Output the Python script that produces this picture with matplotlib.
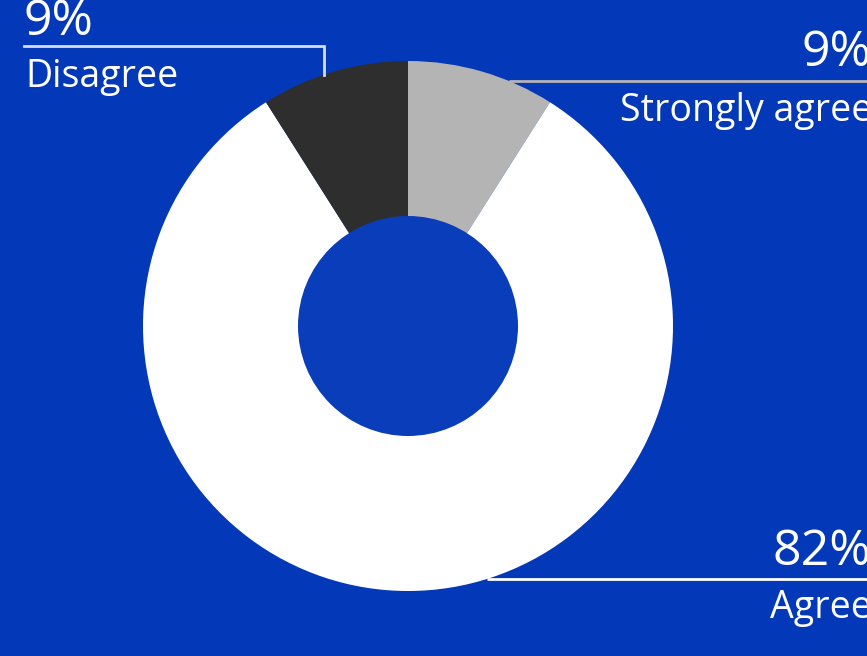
import numpy as np
import matplotlib.pyplot as plt

# survey answers, clockwise from 12 o'clock
labels = ["Strongly agree", "Agree", "Disagree"]
values = [9, 82, 9]
pct_labels = ["9%", "82%", "9%"]

colors = ["#b4b4b4", "#ffffff", "#2e2e2e"]
line_colors = ["#b4b4b4", "#ffffff", "#d6dcf2"]
bg = "#0339b8"
hole = "#0a3db9"

W, H = 867, 656
cx, cy = 408, 330      # centre of the donut (y measured from the bottom)
r_out, r_in = 265, 110

plt.rcParams['font.family'] = ['Open Sans', 'DejaVu Sans']

fig = plt.figure(figsize=(W / 100, H / 100), dpi=100, facecolor=bg)
ax = fig.add_axes([0, 0, 1, 1])

ax.pie(values, colors=colors, startangle=90, counterclock=False,
       center=(cx, cy), radius=r_out, frame=True,
       wedgeprops=dict(linewidth=0))
ax.add_patch(plt.Circle((cx, cy), r_in, color=hole, lw=0))
ax.set_xlim(0, W)
ax.set_ylim(0, H)
ax.set_aspect('equal')
ax.axis('off')


def rim_x(y, side):
    return cx + side * np.sqrt(r_out ** 2 - (y - cy) ** 2)


pct_size = 36
lab_size = 27
x_right = 871

# Strongly agree (right, top)
y = H - 81
ax.plot([rim_x(y, 1), W], [y, y], color=line_colors[0], lw=2, solid_capstyle='butt')
ax.text(x_right, y + 15, pct_labels[0], color='white', fontsize=pct_size, ha='right', va='baseline')
ax.text(x_right + 1, y - 40, labels[0], color='white', fontsize=lab_size, ha='right', va='baseline')

# Agree (right, bottom)
y = H - 579
ax.plot([rim_x(y, 1), W], [y, y], color=line_colors[1], lw=2, solid_capstyle='butt')
ax.text(x_right, y + 14, pct_labels[1], color='white', fontsize=pct_size, ha='right', va='baseline')
ax.text(x_right + 1, y - 39, labels[1], color='white', fontsize=lab_size, ha='right', va='baseline')

# Disagree (left, top) with an elbow down to the slice
y = H - 46
xv = 324
ax.plot([24, xv, xv], [y, y, np.sqrt(r_out ** 2 - (xv - cx) ** 2) + cy],
        color=line_colors[2], lw=2, solid_joinstyle='miter')
ax.text(24, y + 11, pct_labels[2], color='white', fontsize=pct_size, ha='left', va='baseline')
ax.text(25, y - 41, labels[2], color='white', fontsize=lab_size, ha='left', va='baseline')

fig.savefig("out.png", dpi=100, facecolor=bg)
